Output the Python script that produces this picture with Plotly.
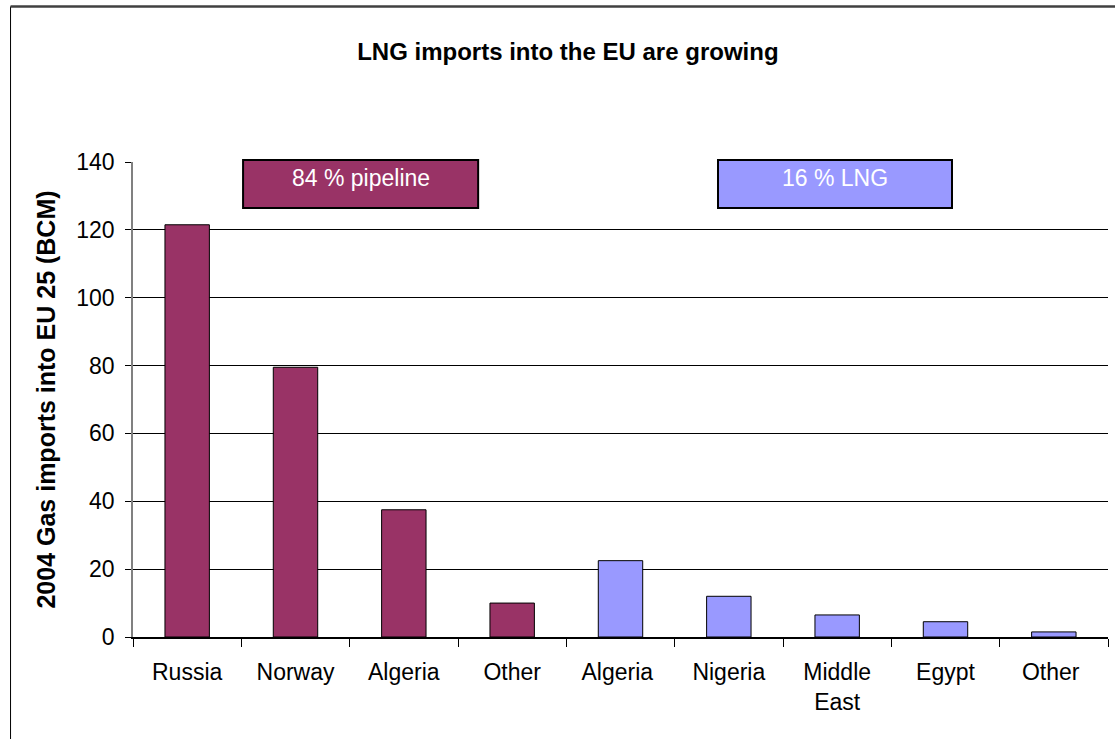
import plotly.graph_objects as go

categories = ["Russia", "Norway", "Algeria", "Other", "Algeria ", "Nigeria", "Middle<br>East", "Egypt", "Other "]
pipeline_values = [121.5, 79.5, 37.5, 10.0, None, None, None, None, None]
lng_values = [None, None, None, None, 22.5, 12.0, 6.5, 4.5, 1.5]
y_ticks = [0, 20, 40, 60, 80, 100, 120, 140]
title_text = "LNG imports into the EU are growing"
y_title = "2004 Gas imports into EU 25 (BCM)"
pipeline_label = "84 % pipeline"
lng_label = "16 % LNG"

PIPE = "#993366"
LNG = "#9999FF"
FONT = "Liberation Sans, Arial, sans-serif"

fig = go.Figure()
fig.add_trace(go.Bar(x=categories, y=pipeline_values, marker=dict(color=PIPE, line=dict(color="#000000", width=1)), width=0.41, showlegend=False))
fig.add_trace(go.Bar(x=categories, y=lng_values, marker=dict(color=LNG, line=dict(color="#000000", width=1)), width=0.41, showlegend=False))

# label boxes (y in paper units so that the frame is not clipped)
fig.add_shape(type="rect", xref="x", yref="paper", x0=0.516, x1=2.686, y0=0.9029, y1=1.0043,
              fillcolor=PIPE, line=dict(color="#000000", width=2), layer="above")
fig.add_shape(type="rect", xref="x", yref="paper", x0=4.90, x1=7.06, y0=0.9029, y1=1.0043,
              fillcolor=LNG, line=dict(color="#000000", width=2), layer="above")
fig.add_annotation(x=1.6, y=0.9663, xref="x", yref="paper", text=pipeline_label, showarrow=False,
                   yanchor="middle", font=dict(family=FONT, size=23, color="white"))
fig.add_annotation(x=5.98, y=0.9663, xref="x", yref="paper", text=lng_label, showarrow=False,
                   yanchor="middle", font=dict(family=FONT, size=23, color="white"))

# outer frame
fig.add_shape(type="line", xref="paper", yref="paper", x0=-0.1256, x1=-0.1256, y0=-0.5, y1=1.3274,
              line=dict(color="#000000", width=1))
fig.add_shape(type="line", xref="paper", yref="paper", x0=-0.1256, x1=1.2, y0=1.3274, y1=1.3274,
              line=dict(color="#404040", width=2.5))

fig.update_layout(
    width=1115, height=739,
    margin=dict(l=133, r=7, t=162, b=102),
    paper_bgcolor="white", plot_bgcolor="white",
    barmode="overlay",
    font=dict(family=FONT, size=23, color="#000000"),
    title=dict(text="<b>" + title_text + "</b>", x=0.5093, xanchor="center", y=0.930, yanchor="middle",
               font=dict(family=FONT, size=24, color="#000000")),
)
fig.update_yaxes(range=[0, 140], tickvals=y_ticks, showgrid=True, gridcolor="#000000", gridwidth=1,
                 showline=True, linecolor="#808080", linewidth=1.5, ticks="outside", ticklen=6,
                 tickcolor="#000000", zeroline=False, ticklabelstandoff=6,
                 title=dict(text="<b>" + y_title + "</b>", font=dict(family=FONT, size=25), standoff=14),
                 tickfont=dict(family=FONT, size=23))
fig.update_xaxes(showline=True, linecolor="#000000", linewidth=1.5, ticks="outside", ticklen=8,
                 tickson="boundaries", tickcolor="#000000", ticklabelstandoff=14,
                 tickfont=dict(family=FONT, size=23))

fig.write_html("out.html")
